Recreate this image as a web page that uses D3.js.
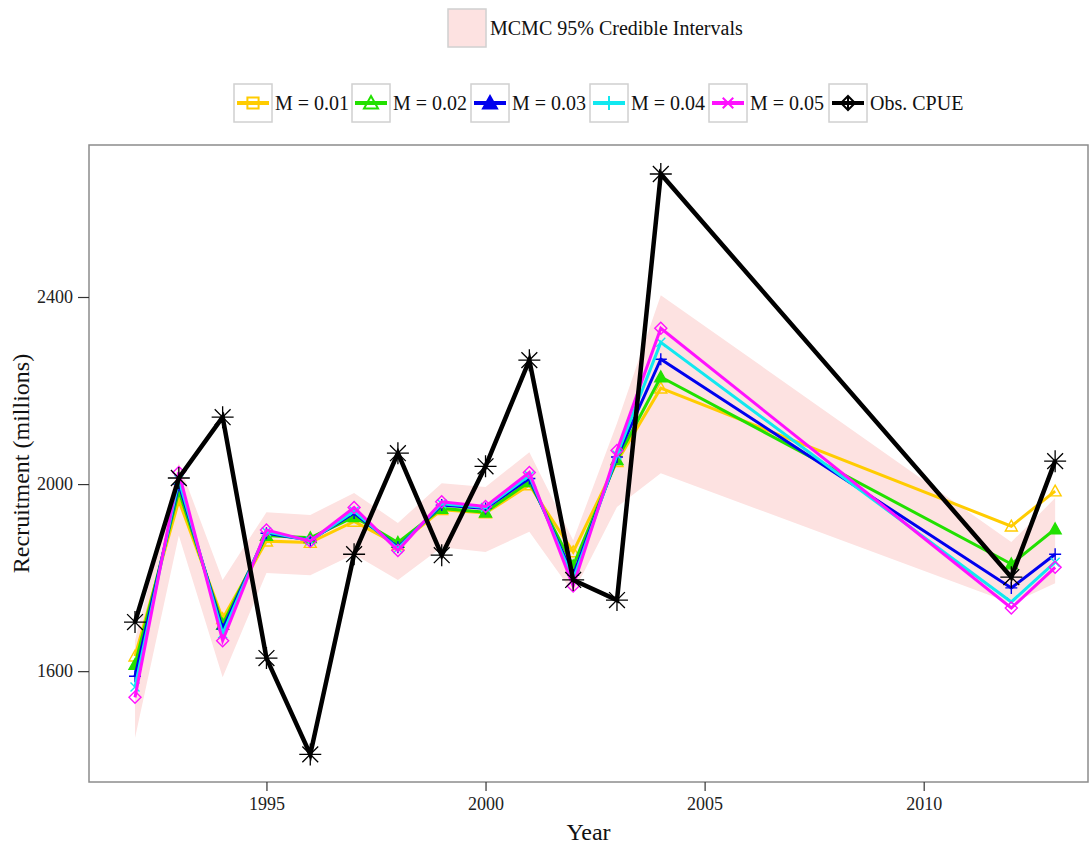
<!DOCTYPE html>
<html>
<head>
<meta charset="utf-8">
<script src="https://cdn.jsdelivr.net/npm/d3@7"></script>
<style>
  html, body { margin: 0; padding: 0; background: #fff; }
  svg text { font-family: "Liberation Serif", "DejaVu Serif", serif; }
</style>
</head>
<body>
<svg id="chart" width="1091" height="846"></svg>
<script>
// Recruitment estimates by natural mortality scenario, with observed CPUE
const years = [1992, 1993, 1994, 1995, 1996, 1997, 1998, 1999, 2000, 2001, 2002, 2003, 2004, 2012, 2013];

const m001 = [1632, 1965, 1712, 1878, 1875, 1920, 1870, 1945, 1938, 1998, 1855, 2048, 2205, 1910, 1985];
const m002 = [1614, 1985, 1700, 1890, 1885, 1930, 1875, 1948, 1940, 2005, 1825, 2052, 2229, 1829, 1904];
const m003 = [1589, 2000, 1690, 1895, 1880, 1938, 1865, 1955, 1948, 2012, 1805, 2058, 2267, 1778, 1850];
const m004 = [1566, 2010, 1680, 1898, 1879, 1942, 1862, 1958, 1950, 2018, 1795, 2062, 2303, 1748, 1833];
const m005 = [1544, 2025, 1665, 1902, 1878, 1950, 1858, 1962, 1952, 2025, 1782, 2072, 2333, 1735, 1822];
const obsCPUE = [1705, 2013, 2143, 1628, 1422, 1850, 2066, 1848, 2038, 2265, 1795, 1752, 2663, 1801, 2049];

const ciLower = [1457, 1890, 1587, 1810, 1805, 1850, 1795, 1865, 1855, 1898, 1767, 1951, 2023, 1745, 1788];
const ciUpper = [1665, 2045, 1795, 1940, 1934, 1981, 1917, 2002, 1994, 2068, 1880, 2130, 2404, 1876, 1970];

const yTicks = [1600, 2000, 2400];
const xTicks = [1995, 2000, 2005, 2010];

const seriesNames = ["M = 0.01", "M = 0.02", "M = 0.03", "M = 0.04", "M = 0.05", "Obs. CPUE"];
const seriesColors = ["#FFCC00", "#22E000", "#0000EE", "#11E8F0", "#FF11FF", "#000000"];
const seriesValues = [m001, m002, m003, m004, m005, obsCPUE];
const pointShapes = ["triangleOpen", "triangleFilled", "plus", "cross", "diamondOpen", "asterisk"];
const legendShapes = ["squareOpen", "triangleOpen", "triangleFilled", "plus", "cross", "diamondPlus"];

const svg = d3.select("#chart");
const panel = { left: 89, top: 145, right: 1088, bottom: 782 };

const x = d3.scaleLinear().domain([1990.95, 2013.75]).range([panel.left, panel.right]);
const y = d3.scaleLinear().domain([1363, 2725]).range([panel.bottom, panel.top]);

// Marker paths centred at 0,0
function shapePath(kind, s) {
  const h = s / 2;
  switch (kind) {
    case "triangleOpen":
    case "triangleFilled":
      return `M0,${-h}L${h},${h * 0.8}L${-h},${h * 0.8}Z`;
    case "squareOpen":
      return `M${-h * 0.8},${-h * 0.8}H${h * 0.8}V${h * 0.8}H${-h * 0.8}Z`;
    case "plus":
      return `M${-h},0H${h}M0,${-h}V${h}`;
    case "cross":
      return `M${-h * 0.75},${-h * 0.75}L${h * 0.75},${h * 0.75}M${-h * 0.75},${h * 0.75}L${h * 0.75},${-h * 0.75}`;
    case "diamondOpen":
      return `M0,${-h}L${h},0L0,${h}L${-h},0Z`;
    case "diamondPlus":
      return `M0,${-h}L${h},0L0,${h}L${-h},0ZM${-h},0H${h}M0,${-h}V${h}`;
    case "asterisk": {
      const d = h * 0.72;
      return `M${-h},0H${h}M0,${-h}V${h}M${-d},${-d}L${d},${d}M${-d},${d}L${d},${-d}`;
    }
  }
  return "";
}
function isFilled(kind) { return kind === "triangleFilled"; }

// Panel background
svg.append("rect")
  .attr("x", panel.left).attr("y", panel.top)
  .attr("width", panel.right - panel.left).attr("height", panel.bottom - panel.top)
  .attr("fill", "#fff");

const plot = svg.append("g");

// Credible interval band
const band = years.map((yr, i) => ({ yr, lo: ciLower[i], hi: ciUpper[i] }));
plot.append("path")
  .datum(band)
  .attr("d", d3.area().x(d => x(d.yr)).y0(d => y(d.lo)).y1(d => y(d.hi)))
  .attr("fill", "#FDE2E1");

// Series lines then markers
const line = d3.line().x(d => x(d.yr)).y(d => y(d.v));
seriesValues.forEach((vals, si) => {
  const pts = years.map((yr, i) => ({ yr, v: vals[i] }));
  const g = plot.append("g");
  g.append("path")
    .datum(pts)
    .attr("d", line)
    .attr("fill", "none")
    .attr("stroke", seriesColors[si])
    .attr("stroke-width", si === 5 ? 4.5 : 3)
    .attr("stroke-linejoin", "miter");
  const kind = pointShapes[si];
  const size = si === 5 ? 22 : 12;
  g.selectAll("path.pt")
    .data(pts)
    .join("path")
    .attr("class", "pt")
    .attr("transform", d => `translate(${x(d.yr)},${y(d.v)})`)
    .attr("d", shapePath(kind, size))
    .attr("fill", isFilled(kind) ? seriesColors[si] : "none")
    .attr("stroke", seriesColors[si])
    .attr("stroke-width", si === 5 ? 1.3 : 1.4);
});

// Panel border
svg.append("rect")
  .attr("x", panel.left).attr("y", panel.top)
  .attr("width", panel.right - panel.left).attr("height", panel.bottom - panel.top)
  .attr("fill", "none").attr("stroke", "#8c8c8c").attr("stroke-width", 1.5);

// Axes
const xAxis = d3.axisBottom(x).tickValues(xTicks).tickFormat(d3.format("d")).tickSize(9).tickPadding(6);
const gx = svg.append("g").attr("transform", `translate(0,${panel.bottom})`).call(xAxis);
gx.select(".domain").remove();
gx.selectAll("line").attr("stroke", "#333").attr("stroke-width", 1.2);
gx.selectAll("text").attr("font-size", 18).attr("fill", "#222")
  .attr("font-family", "Liberation Serif, serif");

const yAxis = d3.axisLeft(y).tickValues(yTicks).tickFormat(d3.format("d")).tickSize(11).tickPadding(5);
const gy = svg.append("g").attr("transform", `translate(${panel.left},0)`).call(yAxis);
gy.select(".domain").remove();
gy.selectAll("line").attr("stroke", "#333").attr("stroke-width", 1.2);
gy.selectAll("text").attr("font-size", 18).attr("fill", "#222")
  .attr("font-family", "Liberation Serif, serif");

// Axis titles
svg.append("text")
  .attr("x", (panel.left + panel.right) / 2).attr("y", 840)
  .attr("text-anchor", "middle").attr("font-size", 24).attr("fill", "#111")
  .text("Year");
svg.append("text")
  .attr("transform", `translate(29,${(panel.top + panel.bottom) / 2}) rotate(-90)`)
  .attr("text-anchor", "middle").attr("font-size", 24).attr("fill", "#111")
  .text("Recruitment (millions)");

// Legend: credible interval fill
const lg1 = svg.append("g").attr("transform", "translate(448,9)");
lg1.append("rect").attr("width", 38).attr("height", 38)
  .attr("fill", "#FDE2E1").attr("stroke", "#d0d0d0").attr("stroke-width", 1.5);
lg1.append("text").attr("x", 42).attr("y", 26).attr("font-size", 20).attr("fill", "#111")
  .text("MCMC 95% Credible Intervals");

// Legend: series keys
const keyX = [234, 352, 471, 590, 709, 829];
seriesNames.forEach((name, si) => {
  const g = svg.append("g").attr("transform", `translate(${keyX[si]},84)`);
  g.append("rect").attr("width", 38).attr("height", 38)
    .attr("fill", "#fff").attr("stroke", "#d0d0d0").attr("stroke-width", 1.5);
  g.append("line").attr("x1", 3).attr("x2", 35).attr("y1", 19).attr("y2", 19)
    .attr("stroke", seriesColors[si]).attr("stroke-width", 4);
  const kind = legendShapes[si];
  g.append("path")
    .attr("transform", "translate(19,19)")
    .attr("d", shapePath(kind, 14))
    .attr("fill", isFilled(kind) ? seriesColors[si] : "none")
    .attr("stroke", seriesColors[si]).attr("stroke-width", 2);
  g.append("text").attr("x", 41).attr("y", 26).attr("font-size", 20).attr("fill", "#111")
    .text(name);
});
</script>
</body>
</html>
